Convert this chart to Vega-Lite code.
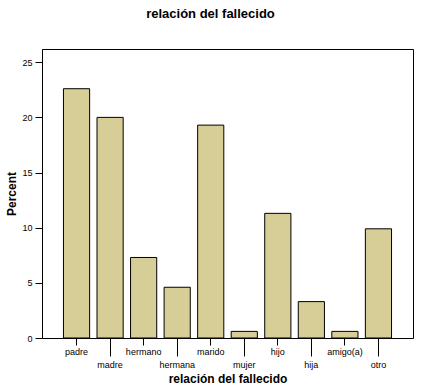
{
  "$schema": "https://vega.github.io/schema/vega-lite/v6.json",
  "autosize": "none",
  "width": 371,
  "height": 289,
  "padding": {"left": 42, "top": 49, "right": 8, "bottom": 50},
  "background": "white",
  "title": {
    "text": "relación del fallecido",
    "font": "Liberation Sans",
    "fontSize": 13,
    "fontWeight": "bold",
    "color": "black",
    "anchor": "middle",
    "dx": -17,
    "offset": 28
  },
  "data": {
    "values": [
      {"relacion": "padre", "percent": 22.6},
      {"relacion": "madre", "percent": 20.0},
      {"relacion": "hermano", "percent": 7.3},
      {"relacion": "hermana", "percent": 4.6},
      {"relacion": "marido", "percent": 19.3},
      {"relacion": "mujer", "percent": 0.6},
      {"relacion": "hijo", "percent": 11.3},
      {"relacion": "hija", "percent": 3.3},
      {"relacion": "amigo(a)", "percent": 0.6},
      {"relacion": "otro", "percent": 9.9}
    ]
  },
  "mark": {"type": "bar", "color": "#D7CD96", "stroke": "black", "strokeWidth": 1},
  "encoding": {
    "x": {
      "field": "relacion",
      "type": "nominal",
      "sort": null,
      "scale": {"paddingInner": 0.22, "paddingOuter": 0.64},
      "axis": {
        "title": "relación del fallecido",
        "titleFont": "Liberation Sans",
        "titleFontSize": 12,
        "titleFontWeight": "bold",
        "titleColor": "black",
        "titlePadding": 4,
        "labelAngle": 0,
        "labelFont": "Liberation Sans",
        "labelFontSize": 9,
        "labelColor": "black",
        "domain": false,
        "tickColor": "black",
        "tickSize": {"condition": {"test": "indexof(['madre','hermana','mujer','hija','otro'], datum.value) >= 0", "value": 18}, "value": 7},
        "labelPadding": {"condition": {"test": "indexof(['madre','hermana','mujer','hija','otro'], datum.value) >= 0", "value": 4}, "value": 2}
      }
    },
    "y": {
      "field": "percent",
      "type": "quantitative",
      "scale": {"domain": [0, 26.2], "nice": false},
      "axis": {
        "title": "Percent",
        "titleFont": "Liberation Sans",
        "titleFontSize": 12,
        "titleFontWeight": "bold",
        "titleColor": "black",
        "titlePadding": 3,
        "values": [0, 5, 10, 15, 20, 25],
        "labelFont": "Liberation Sans",
        "labelFontSize": 9,
        "labelColor": "black",
        "labelPadding": 3,
        "tickSize": 7,
        "tickColor": "black",
        "domainColor": "black",
        "grid": false
      }
    }
  },
  "config": {
    "view": {"stroke": "black", "strokeWidth": 1}
  }
}
